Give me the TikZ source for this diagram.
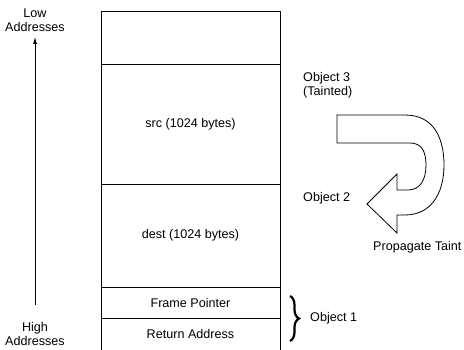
\documentclass[tikz,border=0pt]{standalone}
\usepackage{fontspec}
\setmainfont{Liberation Sans}
\usetikzlibrary{arrows.meta,decorations.pathreplacing}
\begin{document}
\begin{tikzpicture}[x=1pt,y=-1pt,
  lbl/.style={font=\fontsize{12.6}{14.5}\selectfont, inner sep=0pt},
  sline/.style={line width=0.8pt},
  every node/.style={lbl}]
\useasboundingbox (0,0) rectangle (464,350);
% stack outline
\coordinate (tl) at (101,11);
\coordinate (tr) at (280,11);
\coordinate (bl) at (101,352);
\coordinate (br) at (280,352);
\draw[sline] (bl) -- (tl) -- (tr) -- (br);
\draw[sline] (101,64) -- (280,64);
\draw[sline] (101,184) -- (280,184);
\draw[sline] (101,287) -- (280,287);
\draw[sline] (101,318) -- (280,318);
\node (src) at (190.5,124) {src (1024 bytes)};
\node (dest) at (190.5,235) {dest (1024 bytes)};
\node (fp) at (190.5,303) {Frame Pointer};
\node (ra) at (190.5,334) {Return Address};
% address arrow
\node[align=center] (low) at (35,20) {Low\\Addresses};
\node[align=center] (high) at (35,334) {High\\Addresses};
\coordinate (abot) at (35,305);
\coordinate (atop) at (35,37);
\draw[sline,-{Latex[length=7pt,width=4pt]}] (abot) -- (atop);
% brace
\draw[line width=2.2pt,decorate,decoration={brace,amplitude=9pt,aspect=0.5}] (290,296) -- (290,341);
\node[anchor=west] (o1) at (310,318) {Object 1};
% object labels
\node[anchor=west,align=left] (o3) at (303,85) {Object 3\\(Tainted)};
\node[anchor=west] (o2) at (303,198) {Object 2};
\node[anchor=west] (pt) at (373,247) {Propagate Taint};
% curved arrow
\draw[sline] (337,115) -- (405,115) .. controls (435,115) and (444,140) .. (444,165)
  .. controls (444,195) and (430,215) .. (405,215) -- (397,215) -- (397,233) -- (367,204)
  -- (397,174) -- (397,190) -- (408,190) .. controls (420,190) and (426,180) .. (426,165)
  .. controls (426,152) and (422,143) .. (410,143) -- (337,143) -- cycle;
\end{tikzpicture}
\end{document}
